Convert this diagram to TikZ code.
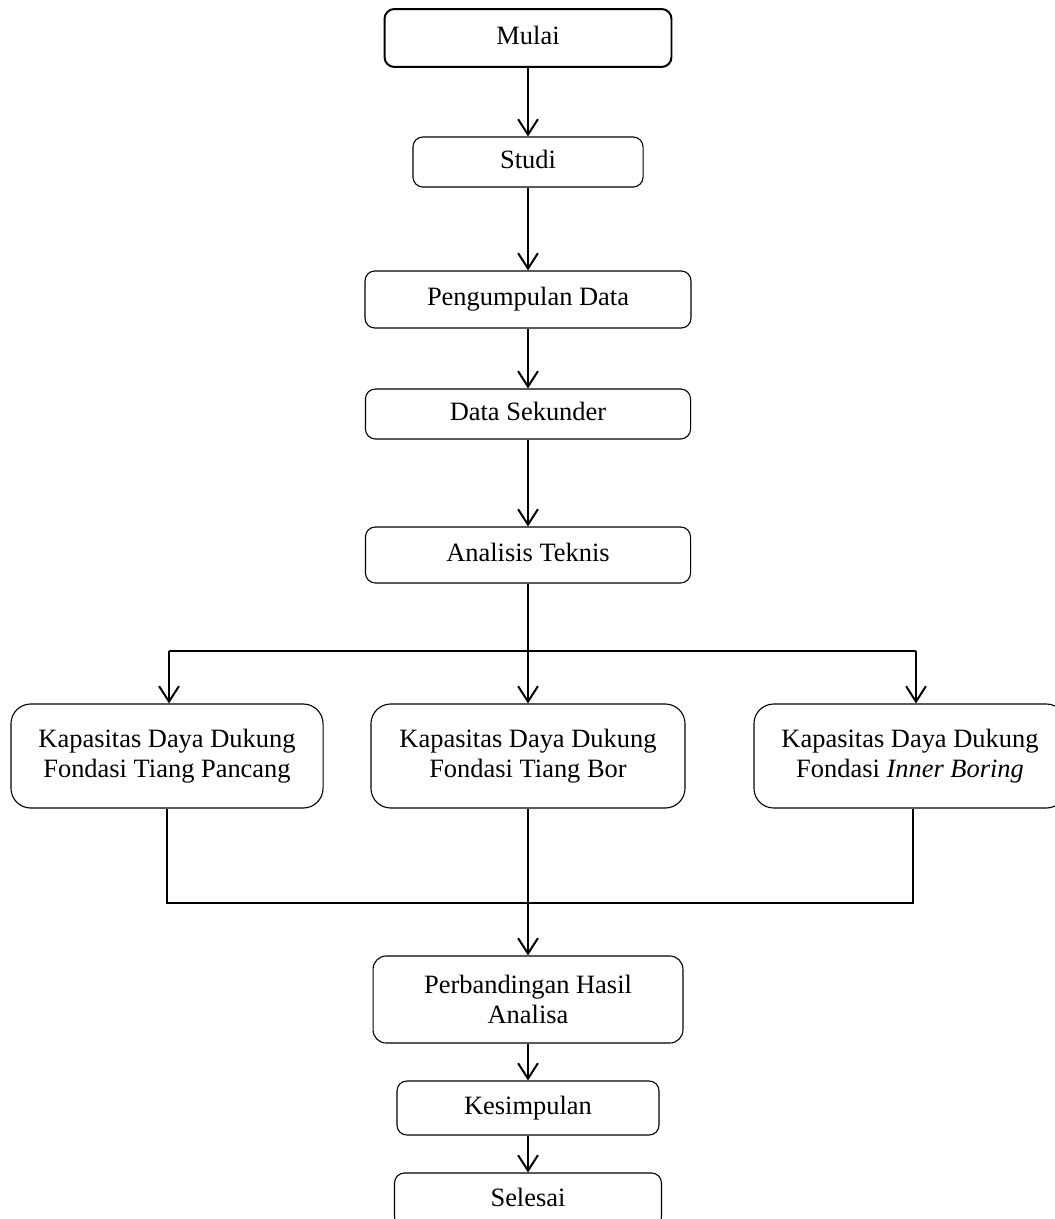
\documentclass[tikz,border=0pt]{standalone}
\usepackage{fontspec}
\setmainfont{Liberation Serif}
\usetikzlibrary{arrows.meta}

\tikzstyle{box} = [draw,rounded corners=4.5pt,line width=0.5pt,align=center,inner sep=0pt,font=\fontsize{12}{13.8}\selectfont]
\tikzstyle{stepbox} = [box,text height=8pt,text depth=2.5pt]
\tikzstyle{terminal} = [stepbox,line width=0.9pt]
\tikzstyle{bigbox} = [box,rounded corners=9pt]
\tikzstyle{link} = [line width=0.9pt]
\tikzstyle{flow} = [link,->,>={Straight Barb[length=7pt,width=9pt]}]

\begin{document}
\begin{tikzpicture}[x=0.4537pt,y=-0.4537pt]
		\useasboundingbox (0,0) rectangle (1054,1219);
		\node[terminal,minimum width=130.2pt,minimum height=26.3pt] (mulai) at (528,38) {Mulai};
		\node[stepbox,minimum width=104.4pt,minimum height=22.7pt] (studi) at (528,162) {Studi};
		\node[stepbox,minimum width=147.9pt,minimum height=25.9pt] (data) at (528,299.5) {Pengumpulan Data};
		\node[stepbox,minimum width=147.5pt,minimum height=22.7pt] (sekunder) at (528,414) {Data Sekunder};
		\node[stepbox,minimum width=147.5pt,minimum height=25.4pt] (analisis) at (528,555) {Analisis Teknis};
		\node[bigbox,minimum width=141.6pt,minimum height=47.2pt] (kp1) at (167,756) {Kapasitas Daya Dukung\\Fondasi Tiang Pancang};
		\node[bigbox,minimum width=142.5pt,minimum height=47.2pt] (kp2) at (528,756) {Kapasitas Daya Dukung\\Fondasi Tiang Bor};
		\node[bigbox,minimum width=141.6pt,minimum height=47.2pt] (kp3) at (910,756) {Kapasitas Daya Dukung\\Fondasi \textit{Inner Boring}};
		\node[box,rounded corners=6pt,minimum width=140.6pt,minimum height=39.5pt] (banding) at (528,999.5) {Perbandingan Hasil\\Analisa};
		\node[stepbox,minimum width=118.9pt,minimum height=24.5pt] (simpul) at (528,1108) {Kesimpulan};
		\node[stepbox,minimum width=121.1pt,minimum height=24.5pt] (selesai) at (528,1200) {Selesai};
		\coordinate (tl) at (169,651);
		\coordinate (tr) at (916,651);
		\coordinate (bl) at (167,903);
		\coordinate (br) at (913,903);
		\draw[flow] (mulai) -- (studi);
		\draw[flow] (studi) -- (data);
		\draw[flow] (data) -- (sekunder);
		\draw[flow] (sekunder) -- (analisis);
		\draw[flow] (analisis) -- (kp2);
		\draw[link] (tl) -- (tr);
		\draw[flow] (tl) -- (tl |- kp1.north);
		\draw[flow] (tr) -- (tr |- kp3.north);
		\draw[link] (kp1.south -| bl) -- (bl) -- (br) -- (kp3.south -| br);
		\draw[flow] (kp2) -- (banding);
		\draw[flow] (banding) -- (simpul);
		\draw[flow] (simpul) -- (selesai);
\end{tikzpicture}
\end{document}
